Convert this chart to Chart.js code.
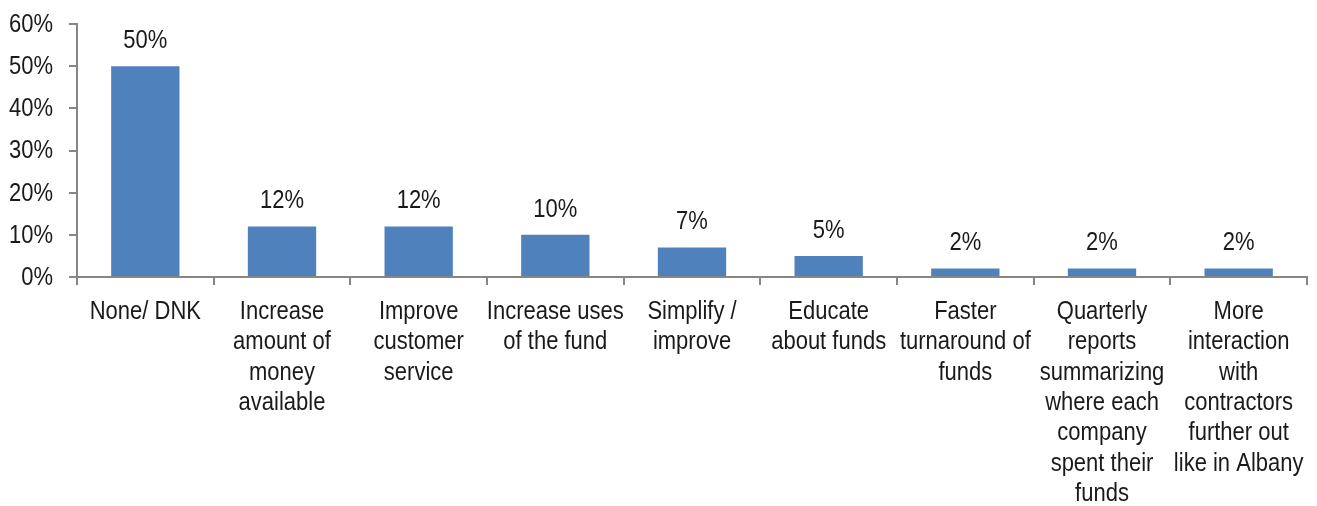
<!DOCTYPE html>
<html>
<head>
<meta charset="utf-8">
<script src="https://cdn.jsdelivr.net/npm/chart.js@4/dist/chart.umd.min.js"></script>
<style>
  html, body { margin: 0; padding: 0; background: #fff; }
  #wrap { width: 1317px; height: 506px; position: relative; }
</style>
</head>
<body>
<div id="wrap"><canvas id="suggestionsChart"></canvas></div>
<script>
const categories = [
  ['None/ DNK'],
  ['Increase', 'amount of', 'money', 'available'],
  ['Improve', 'customer', 'service'],
  ['Increase uses', 'of the fund'],
  ['Simplify /', 'improve'],
  ['Educate', 'about funds'],
  ['Faster', 'turnaround of', 'funds'],
  ['Quarterly', 'reports', 'summarizing', 'where each', 'company', 'spent their', 'funds'],
  ['More', 'interaction', 'with', 'contractors', 'further out', 'like in Albany']
];
const shares = [50, 12, 12, 10, 7, 5, 2, 2, 2];
const yTicks = [0, 10, 20, 30, 40, 50, 60];

const FONT = '"Liberation Sans Narrow", "Liberation Sans", Arial, sans-serif';
const AXIS = '#868686';
const INK = '#1a1a1a';

// condensed text: tall glyphs squeezed horizontally, like a narrow face
function narrowText(ctx, text, x, y, align) {
  ctx.save();
  ctx.translate(x, y);
  ctx.scale(0.88, 1);
  ctx.textAlign = align;
  ctx.fillText(text, 0, 0);
  ctx.restore();
}

// axis labels and value labels
const textLayer = {
  id: 'textLayer',
  afterDraw(chart) {
    const ctx = chart.ctx;
    const xs = chart.scales.x;
    const ys = chart.scales.y;
    const meta = chart.getDatasetMeta(0);
    ctx.save();
    ctx.font = '25px ' + FONT;
    ctx.fillStyle = INK;
    ctx.textBaseline = 'middle';

    yTicks.forEach(v => {
      narrowText(ctx, v + '%', ys.right - 24, ys.getPixelForValue(v) + 1, 'right');
    });

    categories.forEach((lines, i) => {
      const cx = xs.getPixelForValue(i);
      lines.forEach((line, j) => {
        narrowText(ctx, line, cx, xs.top + 35 + j * 30.4, 'center');
      });
    });

    meta.data.forEach((bar, i) => {
      narrowText(ctx, shares[i] + '%', bar.x, bar.y - 25, 'center');
    });
    ctx.restore();
  }
};

new Chart(document.getElementById('suggestionsChart'), {
  type: 'bar',
  data: {
    labels: categories.map(l => l.join(' ')),
    datasets: [{
      data: shares,
      backgroundColor: '#4F81BD',
      barPercentage: 0.5,
      categoryPercentage: 1
    }]
  },
  options: {
    responsive: true,
    maintainAspectRatio: false,
    animation: false,
    layout: { padding: { top: 24, right: 10, left: 0, bottom: 0 } },
    plugins: { legend: { display: false }, tooltip: { enabled: false } },
    scales: {
      x: {
        offset: true,
        grid: { offset: true, drawOnChartArea: false, drawTicks: true, tickLength: 8, color: AXIS, lineWidth: 2 },
        border: { color: AXIS, width: 2 },
        ticks: { display: false, autoSkip: false },
        afterFit(scale) { scale.height = 229; }
      },
      y: {
        min: 0,
        max: 60,
        afterBuildTicks(scale) { scale.ticks = yTicks.map(v => ({ value: v })); },
        grid: { drawOnChartArea: false, drawTicks: true, tickLength: 8, color: AXIS, lineWidth: 2 },
        border: { color: AXIS, width: 2 },
        ticks: { display: false },
        afterFit(scale) { scale.width = 77; }
      }
    }
  },
  plugins: [textLayer]
});
</script>
</body>
</html>
